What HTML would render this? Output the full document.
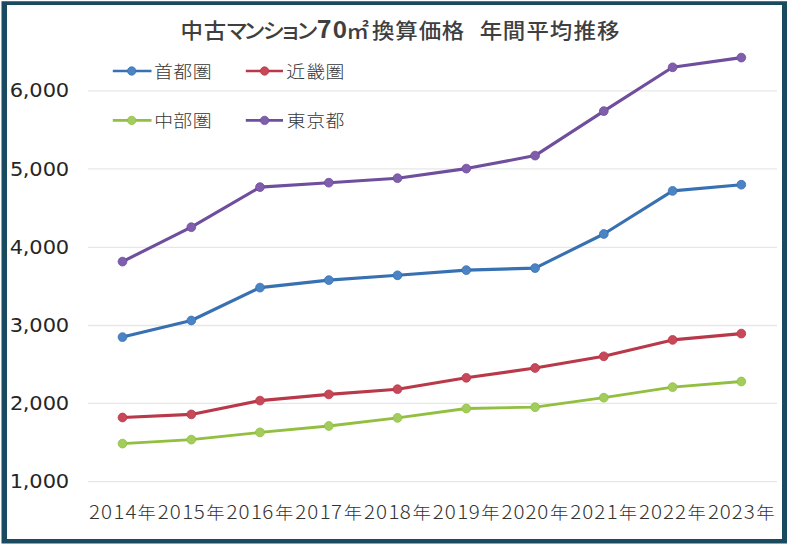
<!DOCTYPE html>
<html lang="ja"><head><meta charset="utf-8"><title>中古マンション70㎡換算価格 年間平均推移</title>
<style>
html,body{margin:0;padding:0;background:#fff;}
body{width:790px;height:545px;overflow:hidden;position:relative;}
svg{position:absolute;left:0;top:0;display:block;}
.tt{font-family:"Noto Sans CJK JP",sans-serif;font-weight:500;fill:#3f3f3f;}
.w700{font-weight:700;}
.yl{font-family:"DejaVu Sans",sans-serif;font-weight:400;fill:#262626;}
.xl{font-family:"Noto Sans CJK JP",sans-serif;font-weight:300;fill:#333;}
.lg{font-family:"Noto Sans CJK JP",sans-serif;font-weight:300;fill:#363636;}
</style></head><body>
<svg width="790" height="545" viewBox="0 0 790 545">
<rect x="0" y="0" width="790" height="545" fill="#fff"/>
<line x1="88" y1="481.6" x2="777" y2="481.6" stroke="#e7e7e7" stroke-width="1.3"/>
<line x1="88" y1="403.4" x2="777" y2="403.4" stroke="#e7e7e7" stroke-width="1.3"/>
<line x1="88" y1="325.5" x2="777" y2="325.5" stroke="#e7e7e7" stroke-width="1.3"/>
<line x1="88" y1="247.4" x2="777" y2="247.4" stroke="#e7e7e7" stroke-width="1.3"/>
<line x1="88" y1="168.8" x2="777" y2="168.8" stroke="#e7e7e7" stroke-width="1.3"/>
<line x1="88" y1="90.8" x2="777" y2="90.8" stroke="#e7e7e7" stroke-width="1.3"/>
<text class="yl" transform="scale(1.1,1)" y="488.25"><tspan x="8.76 20.64 26.54 38.95 50.63" y="488.25" font-size="19.06">1,000</tspan></text>
<text class="yl" transform="scale(1.1,1)" y="410.25"><tspan x="9.14 20.64 26.54 38.95 50.63" y="410.25" font-size="19.06">2,000</tspan></text>
<text class="yl" transform="scale(1.1,1)" y="331.80"><tspan x="8.95 20.64 26.54 38.95 50.63" y="331.80" font-size="19.06">3,000</tspan></text>
<text class="yl" transform="scale(1.1,1)" y="253.95"><tspan x="8.95 20.64 26.54 38.95 50.63" y="253.95" font-size="19.06">4,000</tspan></text>
<text class="yl" transform="scale(1.1,1)" y="175.80"><tspan x="9.00 20.64 26.54 38.95 50.63" y="175.80" font-size="19.06">5,000</tspan></text>
<text class="yl" transform="scale(1.1,1)" y="97.45"><tspan x="8.81 20.64 26.54 38.95 50.63" y="97.45" font-size="19.06">6,000</tspan></text>
<text class="xl" transform="scale(1.06,1)" y="519.20"><tspan x="84.01 95.22 106.98 118.34" y="519.20" font-size="19.40">2014</tspan><tspan x="129.65" y="519.20" font-size="17.30">年</tspan></text>
<text class="xl" transform="scale(1.06,1)" y="519.20"><tspan x="148.88 160.08 171.85 182.84" y="519.20" font-size="19.40">2015</tspan><tspan x="194.52" y="519.20" font-size="17.30">年</tspan></text>
<text class="xl" transform="scale(1.06,1)" y="519.20"><tspan x="213.75 224.95 236.72 247.36" y="519.20" font-size="19.40">2016</tspan><tspan x="259.39" y="519.20" font-size="17.30">年</tspan></text>
<text class="xl" transform="scale(1.06,1)" y="519.20"><tspan x="278.61 289.82 301.59 312.28" y="519.20" font-size="19.40">2017</tspan><tspan x="324.26" y="519.20" font-size="17.30">年</tspan></text>
<text class="xl" transform="scale(1.06,1)" y="519.20"><tspan x="343.48 354.69 366.45 377.20" y="519.20" font-size="19.40">2018</tspan><tspan x="389.12" y="519.20" font-size="17.30">年</tspan></text>
<text class="xl" transform="scale(1.06,1)" y="519.20"><tspan x="408.35 419.56 431.32 442.16" y="519.20" font-size="19.40">2019</tspan><tspan x="453.99" y="519.20" font-size="17.30">年</tspan></text>
<text class="xl" transform="scale(1.06,1)" y="519.20"><tspan x="473.22 484.42 495.73 506.93" y="519.20" font-size="19.40">2020</tspan><tspan x="518.86" y="519.20" font-size="17.30">年</tspan></text>
<text class="xl" transform="scale(1.06,1)" y="519.20"><tspan x="538.09 549.29 560.59 572.31" y="519.20" font-size="19.40">2021</tspan><tspan x="583.73" y="519.20" font-size="17.30">年</tspan></text>
<text class="xl" transform="scale(1.06,1)" y="519.20"><tspan x="602.95 614.16 625.46 636.72" y="519.20" font-size="19.40">2022</tspan><tspan x="648.60" y="519.20" font-size="17.30">年</tspan></text>
<text class="xl" transform="scale(1.06,1)" y="519.20"><tspan x="667.82 679.03 690.33 701.73" y="519.20" font-size="19.40">2023</tspan><tspan x="713.46" y="519.20" font-size="17.30">年</tspan></text>
<polyline points="122.5,337.1 191.3,320.5 260.0,287.6 328.8,280.1 397.5,275.3 466.3,270.1 535.1,268.1 603.8,234.0 672.6,190.9 741.3,184.7" fill="none" stroke="#3771b2" stroke-width="3.1" stroke-linejoin="round" stroke-linecap="round"/>
<circle cx="122.5" cy="337.1" r="4.4" fill="#4a84c4" stroke="#3771b2" stroke-width="0.8"/>
<circle cx="191.3" cy="320.5" r="4.4" fill="#4a84c4" stroke="#3771b2" stroke-width="0.8"/>
<circle cx="260.0" cy="287.6" r="4.4" fill="#4a84c4" stroke="#3771b2" stroke-width="0.8"/>
<circle cx="328.8" cy="280.1" r="4.4" fill="#4a84c4" stroke="#3771b2" stroke-width="0.8"/>
<circle cx="397.5" cy="275.3" r="4.4" fill="#4a84c4" stroke="#3771b2" stroke-width="0.8"/>
<circle cx="466.3" cy="270.1" r="4.4" fill="#4a84c4" stroke="#3771b2" stroke-width="0.8"/>
<circle cx="535.1" cy="268.1" r="4.4" fill="#4a84c4" stroke="#3771b2" stroke-width="0.8"/>
<circle cx="603.8" cy="234.0" r="4.4" fill="#4a84c4" stroke="#3771b2" stroke-width="0.8"/>
<circle cx="672.6" cy="190.9" r="4.4" fill="#4a84c4" stroke="#3771b2" stroke-width="0.8"/>
<circle cx="741.3" cy="184.7" r="4.4" fill="#4a84c4" stroke="#3771b2" stroke-width="0.8"/>
<polyline points="122.5,417.5 191.3,414.4 260.0,400.6 328.8,394.4 397.5,389.2 466.3,377.8 535.1,368.0 603.8,356.3 672.6,339.9 741.3,333.6" fill="none" stroke="#b9384a" stroke-width="3.1" stroke-linejoin="round" stroke-linecap="round"/>
<circle cx="122.5" cy="417.5" r="4.4" fill="#c74858" stroke="#b9384a" stroke-width="0.8"/>
<circle cx="191.3" cy="414.4" r="4.4" fill="#c74858" stroke="#b9384a" stroke-width="0.8"/>
<circle cx="260.0" cy="400.6" r="4.4" fill="#c74858" stroke="#b9384a" stroke-width="0.8"/>
<circle cx="328.8" cy="394.4" r="4.4" fill="#c74858" stroke="#b9384a" stroke-width="0.8"/>
<circle cx="397.5" cy="389.2" r="4.4" fill="#c74858" stroke="#b9384a" stroke-width="0.8"/>
<circle cx="466.3" cy="377.8" r="4.4" fill="#c74858" stroke="#b9384a" stroke-width="0.8"/>
<circle cx="535.1" cy="368.0" r="4.4" fill="#c74858" stroke="#b9384a" stroke-width="0.8"/>
<circle cx="603.8" cy="356.3" r="4.4" fill="#c74858" stroke="#b9384a" stroke-width="0.8"/>
<circle cx="672.6" cy="339.9" r="4.4" fill="#c74858" stroke="#b9384a" stroke-width="0.8"/>
<circle cx="741.3" cy="333.6" r="4.4" fill="#c74858" stroke="#b9384a" stroke-width="0.8"/>
<polyline points="122.5,443.6 191.3,439.6 260.0,432.4 328.8,426.0 397.5,417.9 466.3,408.5 535.1,407.2 603.8,397.7 672.6,387.1 741.3,381.5" fill="none" stroke="#92bf40" stroke-width="2.8" stroke-linejoin="round" stroke-linecap="round"/>
<circle cx="122.5" cy="443.6" r="4.4" fill="#a2cd5c" stroke="#92bf40" stroke-width="0.8"/>
<circle cx="191.3" cy="439.6" r="4.4" fill="#a2cd5c" stroke="#92bf40" stroke-width="0.8"/>
<circle cx="260.0" cy="432.4" r="4.4" fill="#a2cd5c" stroke="#92bf40" stroke-width="0.8"/>
<circle cx="328.8" cy="426.0" r="4.4" fill="#a2cd5c" stroke="#92bf40" stroke-width="0.8"/>
<circle cx="397.5" cy="417.9" r="4.4" fill="#a2cd5c" stroke="#92bf40" stroke-width="0.8"/>
<circle cx="466.3" cy="408.5" r="4.4" fill="#a2cd5c" stroke="#92bf40" stroke-width="0.8"/>
<circle cx="535.1" cy="407.2" r="4.4" fill="#a2cd5c" stroke="#92bf40" stroke-width="0.8"/>
<circle cx="603.8" cy="397.7" r="4.4" fill="#a2cd5c" stroke="#92bf40" stroke-width="0.8"/>
<circle cx="672.6" cy="387.1" r="4.4" fill="#a2cd5c" stroke="#92bf40" stroke-width="0.8"/>
<circle cx="741.3" cy="381.5" r="4.4" fill="#a2cd5c" stroke="#92bf40" stroke-width="0.8"/>
<polyline points="122.5,261.6 191.3,227.2 260.0,187.1 328.8,182.7 397.5,178.2 466.3,168.6 535.1,155.6 603.8,111.1 672.6,67.3 741.3,57.6" fill="none" stroke="#6f4e9e" stroke-width="3.1" stroke-linejoin="round" stroke-linecap="round"/>
<circle cx="122.5" cy="261.6" r="4.4" fill="#7f5eab" stroke="#6f4e9e" stroke-width="0.8"/>
<circle cx="191.3" cy="227.2" r="4.4" fill="#7f5eab" stroke="#6f4e9e" stroke-width="0.8"/>
<circle cx="260.0" cy="187.1" r="4.4" fill="#7f5eab" stroke="#6f4e9e" stroke-width="0.8"/>
<circle cx="328.8" cy="182.7" r="4.4" fill="#7f5eab" stroke="#6f4e9e" stroke-width="0.8"/>
<circle cx="397.5" cy="178.2" r="4.4" fill="#7f5eab" stroke="#6f4e9e" stroke-width="0.8"/>
<circle cx="466.3" cy="168.6" r="4.4" fill="#7f5eab" stroke="#6f4e9e" stroke-width="0.8"/>
<circle cx="535.1" cy="155.6" r="4.4" fill="#7f5eab" stroke="#6f4e9e" stroke-width="0.8"/>
<circle cx="603.8" cy="111.1" r="4.4" fill="#7f5eab" stroke="#6f4e9e" stroke-width="0.8"/>
<circle cx="672.6" cy="67.3" r="4.4" fill="#7f5eab" stroke="#6f4e9e" stroke-width="0.8"/>
<circle cx="741.3" cy="57.6" r="4.4" fill="#7f5eab" stroke="#6f4e9e" stroke-width="0.8"/>
<line x1="112.8" y1="71" x2="151.5" y2="71" stroke="#3771b2" stroke-width="2.7" stroke-linecap="butt"/>
<circle cx="131.7" cy="71" r="4.2" fill="#4a84c4" stroke="#3771b2" stroke-width="0.8"/>
<line x1="245.8" y1="71" x2="283" y2="71" stroke="#b9384a" stroke-width="2.7" stroke-linecap="butt"/>
<circle cx="264.6" cy="71" r="4.2" fill="#c74858" stroke="#b9384a" stroke-width="0.8"/>
<line x1="112.8" y1="120.4" x2="151.5" y2="120.4" stroke="#92bf40" stroke-width="2.7" stroke-linecap="butt"/>
<circle cx="131.7" cy="120.4" r="4.2" fill="#a2cd5c" stroke="#92bf40" stroke-width="0.8"/>
<line x1="245.8" y1="120.4" x2="283" y2="120.4" stroke="#6f4e9e" stroke-width="2.7" stroke-linecap="butt"/>
<circle cx="264.6" cy="120.4" r="4.2" fill="#7f5eab" stroke="#6f4e9e" stroke-width="0.8"/>
<text class="lg" transform="scale(1.07,1)" y="77.60"><tspan x="144.00 161.99 180.17" y="77.60" font-size="17.60">首都圏</tspan></text>
<text class="lg" transform="scale(1.07,1)" y="77.60"><tspan x="267.60 286.11 304.19" y="77.60" font-size="17.60">近畿圏</tspan></text>
<text class="lg" transform="scale(1.07,1)" y="126.80"><tspan x="144.09 161.95 180.27" y="126.80" font-size="17.60">中部圏</tspan></text>
<text class="lg" transform="scale(1.07,1)" y="126.80"><tspan x="267.98 286.29 304.32" y="126.80" font-size="17.60">東京都</tspan></text>
<text class="tt" transform="scale(1.07,1)" y="37.70"><tspan x="168.75 190.38 210.67 227.14 245.32 261.06 276.58" y="37.70" font-size="21.00">中古マンション</tspan><tspan x="295.97" y="38.50" class="w700" font-size="23.47">7</tspan><tspan x="310.92" y="38.16" class="w700" font-size="22.53">0</tspan><tspan x="323.83 347.64 369.34 391.45 412.86 433.86 448.29 469.82 492.06 513.73 535.87 557.88" y="37.70" font-size="21.00">㎡換算価格　年間平均推移</tspan></text>
<path d="M1.5 1.2H787V543.5H1.5Z M7 5V539H782V5Z" fill="#1a4a5f" fill-rule="evenodd"/>
</svg>
</body></html>
